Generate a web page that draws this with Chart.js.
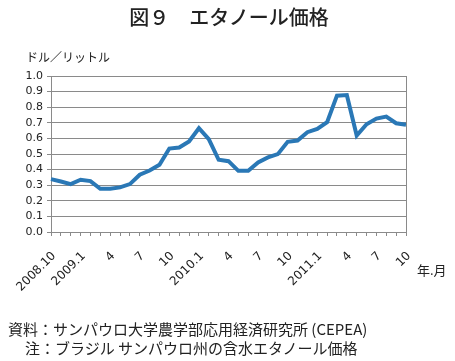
<!DOCTYPE html>
<html lang="ja">
<head>
<meta charset="utf-8">
<script src="https://cdn.jsdelivr.net/npm/chart.js@4"></script>
<style>
    body { margin: 0; background: #fff; }
    #wrap { position: relative; width: 455px; height: 361px; font-family: "Noto Sans CJK JP", sans-serif; color: #222; }
    #wrap canvas { position: absolute; left: 0; top: 0; }
    .txt { position: absolute; white-space: nowrap; line-height: 1; }
</style>
</head>
<body>
<div id="wrap">
    <canvas id="chart-etanol" width="455" height="361"></canvas>
    <div class="txt" id="titulo" style="left:0; width:458px; top:7px; text-align:center; font-size:20px; font-weight:500;">図９　エタノール価格</div>
    <div class="txt" style="left:26px; top:51px; font-size:12px;">ドル／リットル</div>
    <div class="txt" style="left:417px; top:263px; font-size:13px;">年.月</div>
    <div class="txt" style="left:8px; top:321px; font-size:15px;">資料：サンパウロ大学農学部応用経済研究所 (CEPEA)</div>
    <div class="txt" style="left:25px; top:340px; font-size:15px;">注：ブラジル サンパウロ州の含水エタノール価格</div>
</div>
<script>
// meses (año.mes)
const meses = [
    '2008.10', '2008.11', '2008.12',
    '2009.1', '2009.2', '2009.3', '2009.4', '2009.5', '2009.6', '2009.7', '2009.8', '2009.9', '2009.10', '2009.11', '2009.12',
    '2010.1', '2010.2', '2010.3', '2010.4', '2010.5', '2010.6', '2010.7', '2010.8', '2010.9', '2010.10', '2010.11', '2010.12',
    '2011.1', '2011.2', '2011.3', '2011.4', '2011.5', '2011.6', '2011.7', '2011.8', '2011.9', '2011.10'
];
// etiquetas que se muestran en el eje X
const etiquetasX = [
    '2008.10', '', '',
    '2009.1', '', '', '4', '', '', '7', '', '', '10', '', '',
    '2010.1', '', '', '4', '', '', '7', '', '', '10', '', '',
    '2011.1', '', '', '4', '', '', '7', '', '', '10'
];
// precio del etanol (dólar / litro)
const precios = [
    0.339, 0.324, 0.307,
    0.335, 0.326, 0.277, 0.277, 0.286, 0.307, 0.367, 0.394, 0.431, 0.535, 0.542, 0.580,
    0.665, 0.595, 0.463, 0.454, 0.392, 0.392, 0.446, 0.478, 0.499, 0.578, 0.586, 0.640,
    0.661, 0.704, 0.874, 0.878, 0.618, 0.691, 0.727, 0.740, 0.697, 0.687
];
const ticksY = [0, 0.1, 0.2, 0.3, 0.4, 0.5, 0.6, 0.7, 0.8, 0.9, 1.0];

const gris = '#8a8a8a';

// borde derecho del área del gráfico
const bordeDerecho = {
    id: 'bordeDerecho',
    afterDraw(chart) {
        const { ctx, chartArea } = chart;
        ctx.save();
        ctx.strokeStyle = gris;
        ctx.lineWidth = 1;
        ctx.beginPath();
        ctx.moveTo(Math.round(chartArea.right) + 0.5, chartArea.top);
        ctx.lineTo(Math.round(chartArea.right) + 0.5, chartArea.bottom + 4);
        ctx.stroke();
        ctx.restore();
    }
};

const ctx = document.getElementById('chart-etanol').getContext('2d');
new Chart(ctx, {
    type: 'line',
    data: {
        labels: meses,
        datasets: [{
            label: 'エタノール価格',
            data: precios,
            borderColor: '#2a78b6',
            borderWidth: 4,
            pointRadius: 0,
            tension: 0,
            fill: false,
        }],
    },
    options: {
        responsive: false,
        animation: false,
        layout: { padding: { top: 76, right: 49, left: 0, bottom: 0 } },
        scales: {
            x: {
                offset: false,
                afterFit: (scale) => { scale.height = 129; },
                grid: { drawOnChartArea: false, tickLength: 4, color: gris },
                border: { color: gris },
                ticks: {
                    autoSkip: false,
                    minRotation: 45,
                    maxRotation: 45,
                    padding: 13,
                    labelOffset: 3,
                    color: '#222',
                    font: { family: 'DejaVu Sans', size: 12 },
                    callback: (val, i) => etiquetasX[i],
                },
            },
            y: {
                min: 0,
                max: 1,
                afterFit: (scale) => { scale.width = 51; },
                afterBuildTicks: (scale) => { scale.ticks = ticksY.map(v => ({ value: v })); },
                grid: { color: gris, tickLength: 4 },
                border: { color: gris },
                ticks: {
                    autoSkip: false,
                    padding: 4,
                    color: '#222',
                    font: { family: 'DejaVu Sans', size: 11 },
                    callback: (v) => Number(v).toFixed(1),
                },
            },
        },
        plugins: {
            legend: { display: false },
            tooltip: { enabled: false },
        },
    },
    plugins: [bordeDerecho],
});
</script>
</body>
</html>
